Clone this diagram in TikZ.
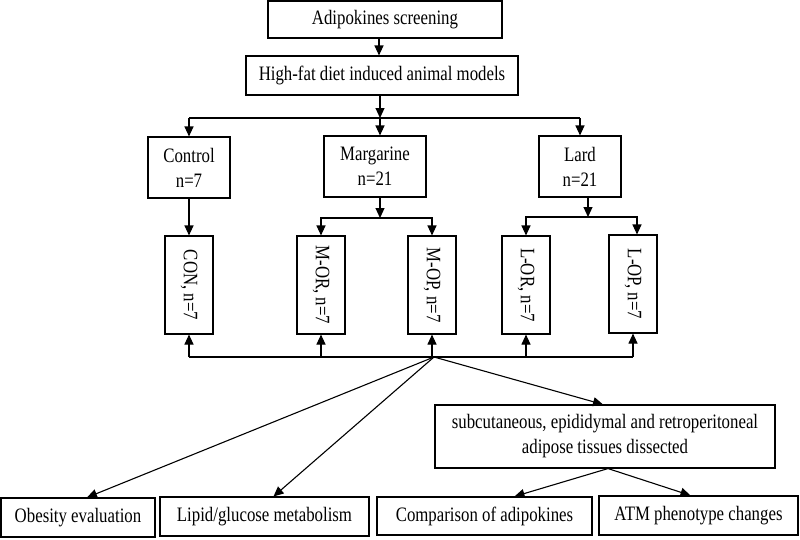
\documentclass[tikz,border=0pt]{standalone}
\usepackage{fontspec}
\setmainfont[FakeStretch=0.82]{Liberation Serif}
\usepackage{graphicx}
\usetikzlibrary{arrows.meta}

\begin{document}
\begin{tikzpicture}[x=1pt, y=-1pt, line width=1.1pt,
    box/.style={draw, inner sep=0pt, align=center, font=\fontsize{20.5}{25}\selectfont},
    vbox/.style={box, minimum width=48pt, minimum height=98pt},
    arr/.style={-{Triangle[length=10pt, width=9pt]}}]
\useasboundingbox (0,0) rectangle (800,539);
% top of the flow
\node[box, minimum width=234pt, minimum height=37pt] (screen) at (385,19.5) {Adipokines screening};
\node[box, minimum width=272pt, minimum height=39pt] (hfd) at (382,75.5) {High-fat diet induced animal models};
% diet groups
\node[box, minimum width=82pt, minimum height=61pt] (ctrl) at (189,167.5) {Control\\n=7};
\node[box, minimum width=102pt, minimum height=61pt] (marg) at (375,166.5) {Margarine\\n=21};
\node[box, minimum width=82pt, minimum height=61pt] (lard) at (580,166.5) {Lard\\n=21};
% sub groups
\node[vbox] (con) at (189,285) {\rotatebox{-90}{CON, n=7}};
\node[vbox] (mor) at (321,285) {\rotatebox{-90}{M-OR, n=7}};
\node[vbox] (mop) at (432,285) {\rotatebox{-90}{M-OP, n=7}};
\node[vbox] (lor) at (526,285) {\rotatebox{-90}{L-OR, n=7}};
\node[vbox] (lop) at (633,284) {\rotatebox{-90}{L-OP, n=7}};
% outcomes
\node[box, minimum width=340pt, minimum height=63pt] (dissect) at (605,436.5) {subcutaneous, epididymal and retroperitoneal\\adipose tissues dissected};
\node[box, minimum width=154pt, minimum height=39pt] (obes) at (78,517.5) {Obesity evaluation};
\node[box, minimum width=209pt, minimum height=39pt] (lipid) at (264.5,516.5) {Lipid/glucose metabolism};
\node[box, minimum width=215pt, minimum height=38pt] (compar) at (484.5,516) {Comparison of adipokines};
\node[box, minimum width=199pt, minimum height=39pt] (atm) at (698.5,515.5) {ATM phenotype changes};

\draw[arr] ([xshift=-6pt]screen.south) -- ([xshift=-6pt]screen.south |- hfd.north);
\coordinate (split) at (380,118);
\draw[arr] (hfd.south -| split) -- (split);
\draw (ctrl.north |- split) -- (lard.north |- split);
\draw[arr] (ctrl.north |- split) -- (ctrl.north);
\draw[arr] (split) -- (split |- marg.north);
\draw[arr] (lard.north |- split) -- (lard.north);

\draw[arr] (ctrl) -- (con);
\coordinate (msplit) at (380,218);
\draw[arr] (marg.south -| msplit) -- (msplit);
\draw[arr] (msplit) -| (mor.north);
\draw[arr] (msplit) -| (mop.north);
\coordinate (lsplit) at (588,217);
\draw[arr] (lard.south -| lsplit) -- (lsplit);
\draw[arr] (lsplit) -| (lor.north);
\draw[arr] (lsplit) -| ([xshift=4pt]lop.north);

\coordinate (hub) at (434,357);
\draw (con.south |- hub) -- (lop.south |- hub);
\foreach \g in {con,mor,mop,lor,lop}
  \draw[arr] (\g.south |- hub) -- (\g.south);
\draw[arr] (hub) -- ([xshift=9pt]obes.north);
\draw[arr] (hub) -- ([xshift=9pt]lipid.north);
\draw[arr] (hub) -- ([xshift=-2pt]dissect.north);
\draw[arr] ([xshift=3pt]dissect.south) -- ([xshift=30pt]compar.north);
\draw[arr] ([xshift=3pt]dissect.south) -- ([xshift=-8pt]atm.north);
\end{tikzpicture}
\end{document}
